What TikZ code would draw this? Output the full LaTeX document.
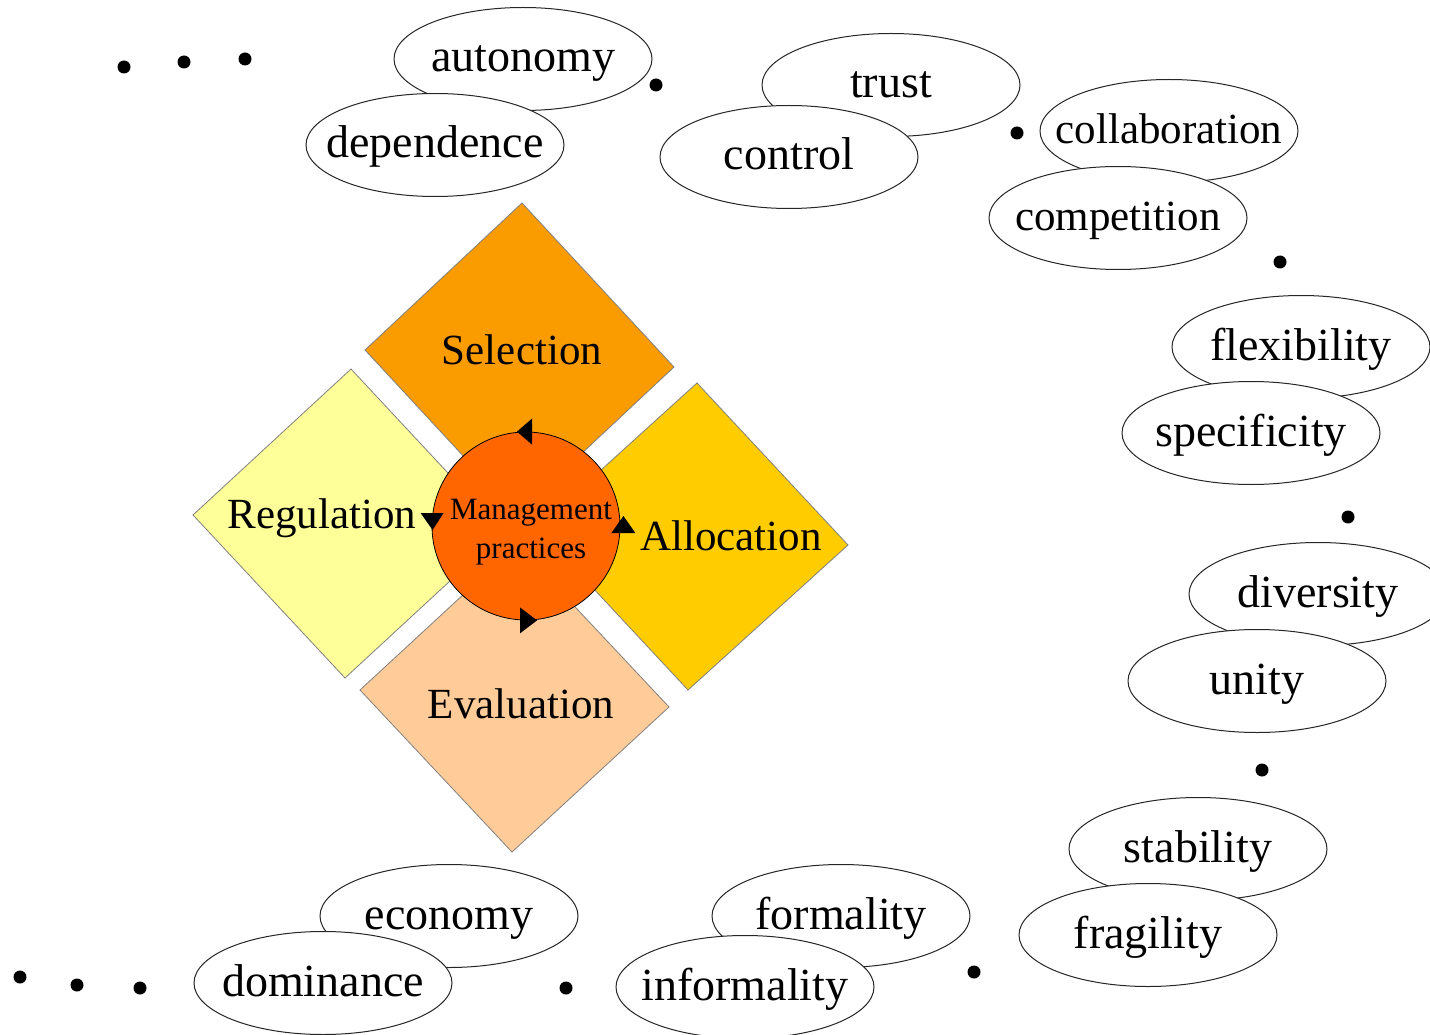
\documentclass[tikz,border=0pt]{standalone}
\usepackage{fontspec}
\setmainfont{Liberation Serif}
\usepackage{tikz}
\usetikzlibrary{shapes.geometric}

\definecolor{selcol}{RGB}{250,155,0}
\definecolor{regcol}{RGB}{255,255,153}
\definecolor{allcol}{RGB}{255,204,0}
\definecolor{evacol}{RGB}{255,204,153}
\definecolor{mpcol}{RGB}{255,102,0}

\begin{document}
\begin{tikzpicture}[x=1pt, y=-1pt,
	word/.style={ellipse, draw=black!85, line width=1pt, fill=white, minimum width=258pt, minimum height=103pt,
		inner xsep=-60pt, inner ysep=0pt, text height=33pt, text depth=7pt, font=\fontsize{46}{50}\selectfont},
	smallword/.style={word, font=\fontsize{43}{48}\selectfont},
	field/.style={draw=black!50, line width=0.8pt},
	fieldtext/.style={font=\fontsize{43}{48}\selectfont},
	tip/.style={fill=black}]
			\clip (0,0) rectangle (1430,1035);

			% four fields
			\draw [field, fill=selcol] (522,203) -- (674,367) -- (517,514) -- (365,350) -- cycle;
			\draw [field, fill=regcol] (351,369) -- (503,532) -- (345,678) -- (193,515) -- cycle;
			\draw [field, fill=allcol] (697,383) -- (848,545) -- (688,690) -- (537,528) -- cycle;
			\draw [field, fill=evacol] (517,545) -- (669,707) -- (512,852) -- (360,690) -- cycle;

			\node [fieldtext] (sel) at (522,350) {Selection};
			\node [fieldtext] (reg) at (322,518) {Regulation};
			\node [fieldtext] (all) at (731,536) {Allocation};
			\node [fieldtext] (eva) at (521,704) {Evaluation};

			% centre
			\node [circle, draw, line width=0.8pt, fill=mpcol, minimum size=188pt, inner sep=0pt] (mp) at (526,526) {};
			\node [align=center, font=\fontsize{31}{39}\selectfont] (mptext) at (531,532) {Management\\practices};
			\fill [tip, shift={(mp.north)}] (-9,0) -- (6,-13) -- (6,13) -- cycle;
			\fill [tip, shift={(mp.west)}] (1,4) -- (-11,-13) -- (12,-13) -- cycle;
			\fill [tip, shift={(mp.south)}] (11,0) -- (-6,-13) -- (-6,13) -- cycle;
			\fill [tip, shift={(mp.east)}] (3,-10) -- (-9,7) -- (15,7) -- cycle;

			% pairs
			\node [word] (autonomy) at (523,59) {autonomy};
			\node [word] (dependence) at (435,145) {dependence};
			\node [word] (trust) at (891,85) {trust};
			\node [word] (control) at (789,157) {control};
			\node [smallword] (collaboration) at (1169,131) {collaboration};
			\node [smallword] (competition) at (1118,218) {competition};
			\node [word] (flexibility) at (1301,347) {flexibility};
			\node [word] (specificity) at (1251,433) {specificity};
			\node [word] (diversity) at (1318,594) {diversity};
			\node [word] (unity) at (1257,681) {unity};
			\node [word] (stability) at (1198,849) {stability};
			\node [word] (fragility) at (1148,935) {fragility};
			\node [word] (formality) at (841,916) {formality};
			\node [word] (informality) at (745,987) {informality};
			\node [word] (economy) at (449,916) {economy};
			\node [word] (dominance) at (323,983) {dominance};

			% dots
			\foreach \p in {(124,67), (184,62), (245,59), (656,85), (1017,133), (1280,262),
				(1348,517), (1262,770), (974,972), (566,988), (20,977), (77,985), (140,988)}
				\fill \p circle (6.5);
		\end{tikzpicture}
\end{document}
